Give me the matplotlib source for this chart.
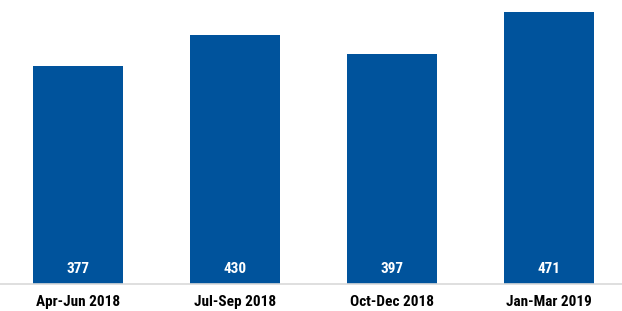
import matplotlib.pyplot as plt

quarters = ["Apr-Jun 2018", "Jul-Sep 2018", "Oct-Dec 2018", "Jan-Mar 2019"]
values = [377, 430, 397, 471]

plt.rcParams['font.family'] = ['Roboto Condensed', 'DejaVu Sans']

fig = plt.figure(figsize=(6.22, 3.11), dpi=100)
ax = fig.add_axes([0, 27 / 311, 1, 284 / 311])

x = range(len(quarters))
bars = ax.bar(x, values, width=0.573, color="#00539C")

for b, v in zip(bars, values):
    ax.text(b.get_x() + b.get_width() / 2, 26, str(v), ha="center", va="center",
            color="white", fontsize=11, fontweight="semibold")

ax.set_xlim(-0.497, 3.465)
ax.set_ylim(0, 491)
ax.set_xticks(list(x))
ax.set_xticklabels(quarters, fontsize=11, fontweight="semibold")
ax.tick_params(axis="x", length=0, pad=8)
ax.set_yticks([])
for s in ["top", "left", "right"]:
    ax.spines[s].set_visible(False)
ax.spines["bottom"].set_color("#D9D9D9")
ax.spines["bottom"].set_linewidth(1.2)

fig.savefig("out.png", dpi=100)
